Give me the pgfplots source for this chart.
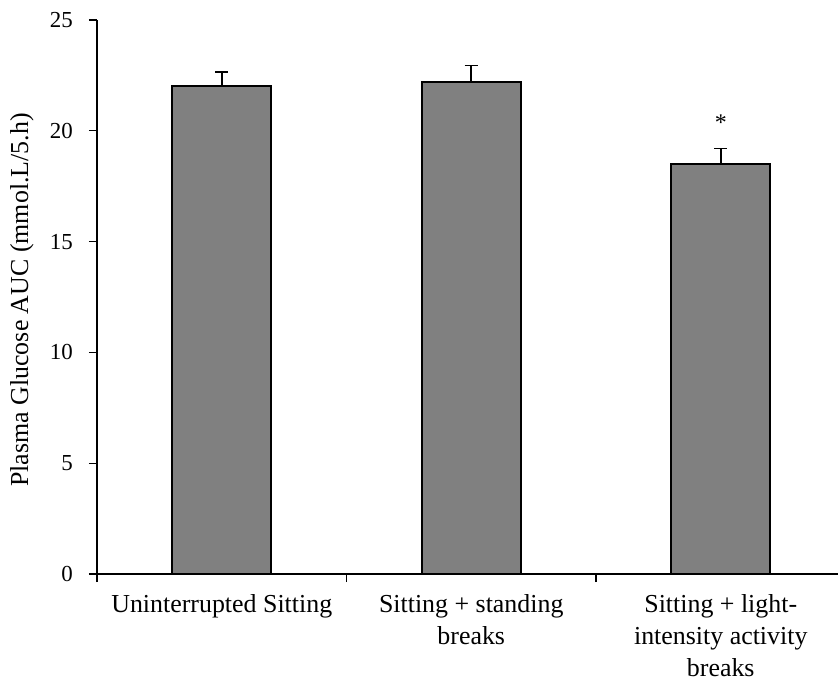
\documentclass[border=0pt]{standalone}
\usepackage{fontspec}
\setmainfont{Liberation Serif}
\usepackage{pgfplots}
\pgfplotsset{compat=1.18}
\definecolor{barfill}{RGB}{128,128,128}
\begin{document}
\begin{tikzpicture}
\begin{axis}[
  at={(0,0)}, anchor=south west,
  scale only axis,
  width=741bp, height=554bp,
  xmin=0.5, xmax=3.47,
  ymin=0, ymax=25,
  axis lines=left,
  axis line style={-, line width=1.3bp, black},
  ybar,
  ytick={0,5,10,15,20,25},
  xtick={0.5,1.5,2.5}, xticklabels={},
  extra x ticks={1,2,3},
  extra x tick labels={Uninterrupted Sitting, {Sitting + standing\\breaks}, {Sitting + light-\\intensity activity\\breaks}},
  extra x tick style={major tick length=0pt},
  tick align=outside,
  major tick length=8bp,
  tick style={black, line width=1.3bp},
  /pgf/number format/assume math mode=true,
  yticklabel style={font=\fontsize{23}{27}\selectfont, inner sep=0pt, xshift=-16bp},
  xticklabel style={font=\fontsize{26}{32.5}\selectfont, align=center, inner sep=0pt, yshift=-20bp},
  ylabel={Plasma Glucose AUC (mmol.L/5.h)},
  ylabel style={font=\fontsize{26}{30}\selectfont, at={(axis description cs:-0.1012,0.4946)}, anchor=center},
]
\addplot[ybar, bar width=99bp, fill=barfill, draw=black, line width=1.6bp,
  error bars/.cd, y dir=plus, y explicit,
  error bar style={line width=1.6bp, black},
  error mark options={rotate=90, line width=1.6bp, black, mark size=6.5bp}]
  coordinates {(1,22.03) +- (0,0.62) (2,22.19) +- (0,0.75) (3,18.49) +- (0,0.72)};
\node[anchor=base, font=\fontsize{24}{28}\selectfont, inner sep=0pt] at (axis cs:3,20.0) {*};
\end{axis}
\pgfresetboundingbox
\path[use as bounding box] (-97bp,-110bp) rectangle (741bp,574bp);
\end{tikzpicture}
\end{document}
